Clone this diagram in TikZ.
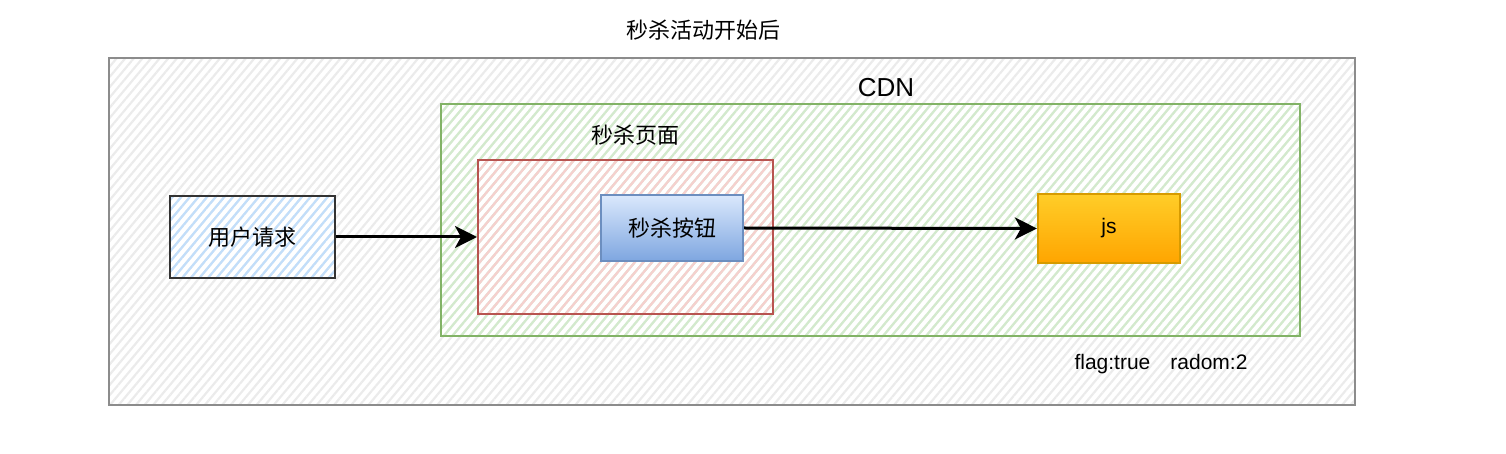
\documentclass[tikz,border=0pt]{standalone}
\usepackage{fontspec}
\setmainfont{Liberation Sans}
\newfontfamily\cjk{Noto Sans CJK SC}
\usetikzlibrary{patterns.meta,arrows.meta}
\definecolor{outerc}{HTML}{8C8C8C}
\definecolor{outerh}{HTML}{EBEBEB}
\definecolor{greenc}{HTML}{82B366}
\definecolor{greenh}{HTML}{D3EACD}
\definecolor{redc}{HTML}{B85450}
\definecolor{redh}{HTML}{F6D0CE}
\definecolor{userh}{HTML}{C2DEFA}
\definecolor{btnc}{HTML}{6C8EBF}
\definecolor{btntop}{HTML}{DAE8FC}
\definecolor{btnbot}{HTML}{7EA6E0}
\definecolor{jsc}{HTML}{D79B00}
\definecolor{jstop}{HTML}{FFCD28}
\definecolor{jsbot}{HTML}{FFA500}
\tikzset{
  hatch/.style={pattern={Lines[angle=50,distance=3.3pt,line width=1.1pt]}},
  frame/.style={draw, line width=1.1pt},
  lbl/.style={inner sep=0pt, font=\cjk\fontsize{11}{13}\selectfont},
  conn/.style={line width=1.5pt, -{Stealth[length=11pt,width=11pt,inset=3pt]}},
}
\begin{document}
\begin{tikzpicture}[x=0.5pt,y=-0.5pt]
\useasboundingbox (0,0) rectangle (1506,454);
% outer
\draw[frame, outerc, hatch, pattern color=outerh] (109,58) rectangle (1355,405);
\node[lbl] (title) at (703,30) {秒杀活动开始后};
% CDN
\draw[frame, greenc, hatch, pattern color=greenh] (441,104) rectangle (1300,336);
\node[inner sep=0pt, font=\fontsize{13}{15}\selectfont] (cdn) at (886,88) {CDN};
% page
\node[frame, redc, hatch, pattern color=redh, minimum width=147.5pt, minimum height=77pt, anchor=north west, inner sep=0pt] (page) at (477,159) {};
\node[lbl] (pagelbl) at (635,135) {秒杀页面};
% user
\node[draw=black!80, line width=1.4pt, hatch, pattern color=userh, minimum width=82.5pt, minimum height=41pt, inner sep=0pt, font=\cjk\fontsize{11}{13}\selectfont] (user) at (252.5,237) {用户请求};
% button
\node[draw=btnc, line width=1.1pt, top color=btntop, bottom color=btnbot, minimum width=71pt, minimum height=33pt, inner sep=0pt, font=\cjk\fontsize{11}{13}\selectfont] (btn) at (672,228) {秒杀按钮};
% js
\node[draw=jsc, line width=1.1pt, top color=jstop, bottom color=jsbot, minimum width=71pt, minimum height=34.5pt, inner sep=0pt, font=\fontsize{10.5}{12}\selectfont] (js) at (1109,228.5) {js};
% label
\node[inner sep=0pt, font=\fontsize{10.5}{12}\selectfont] (flag) at (1161,364) {flag:true\hspace{10pt}radom:2};
% connectors
\draw[conn] (user.east) -- (user.east -| page.west);
\draw[conn] (btn.east) -- (js.west);
\end{tikzpicture}
\end{document}
